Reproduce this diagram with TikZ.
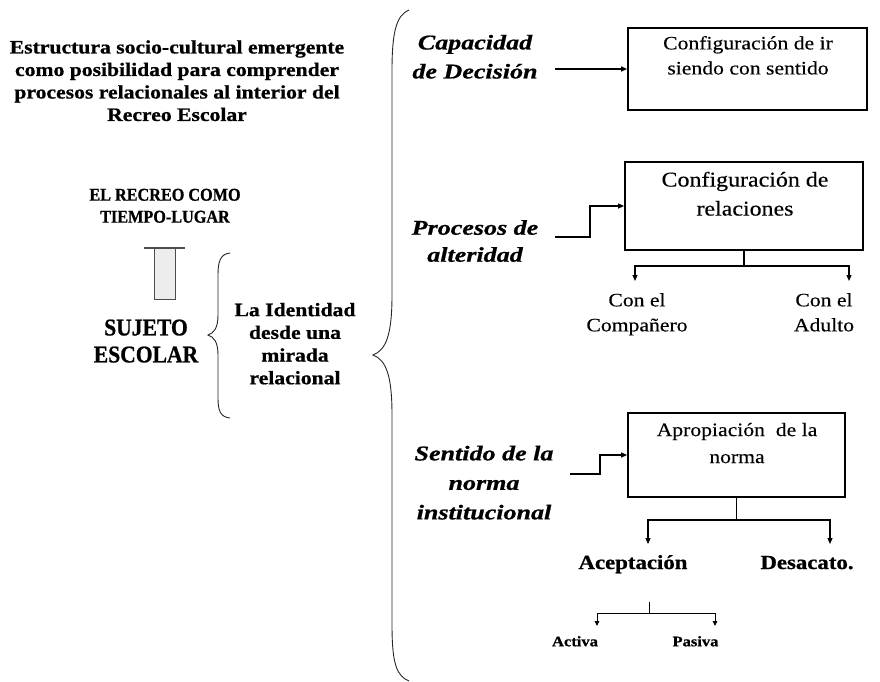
\documentclass[tikz,border=0pt]{standalone}
\usepackage{fontspec}
\setmainfont[FakeStretch=1.14, UprightFeatures={FakeBold=0.3}, BoldFeatures={FakeBold=0.8}]{Liberation Serif}
\newfontfamily\labfont[FakeStretch=1.24, BoldItalicFeatures={FakeBold=0.8}]{Liberation Serif}
\newfontfamily\capsfont[FakeStretch=0.9, BoldFeatures={FakeBold=0.8}]{Liberation Serif}
\usetikzlibrary{arrows.meta}
\newcommand{\myfs}[2]{\fontsize{#1}{#2}\selectfont}
\begin{document}
\begin{tikzpicture}[x=1pt,y=-1pt,
  txt/.style={align=center, inner sep=0pt, execute at begin node=\strut, execute at end node=\strut},
  bx/.style={draw, line width=1.8pt, inner sep=0pt},
  conn/.style={line width=1.2pt},
  arr/.style={conn, -{Triangle[length=6pt,width=5pt]}},
  brace/.style={line width=0.9pt, black!85}]
\useasboundingbox (0,0) rectangle (880,681);

% left texts
\node[txt, font=\bfseries\myfs{19}{22.5}] (title) at (177,84)
  {Estructura socio-cultural emergente\\como posibilidad para comprender\\procesos relacionales al interior del\\Recreo Escolar};
\node[txt, font=\capsfont\bfseries\myfs{18}{22}] (recreo) at (165,209) {EL RECREO COMO\\TIEMPO-LUGAR};
\node[txt, font=\capsfont\bfseries\myfs{24}{27}] (sujeto) at (146,345) {SUJETO\\ESCOLAR};
\node[txt, font=\bfseries\myfs{19}{22.7}] (ident) at (295,347) {La Identidad\\desde una\\mirada\\relacional};

% gray connector shape
\draw[line width=1pt, draw=black!70, fill=black!7] (154,248) -- (154,299) -- (175,299) -- (175,248);
\draw[line width=1.2pt, black!70] (144,248) -- (185,248);

% small brace
\draw[brace] (230,253) .. controls (220,254) and (218,262) .. (218,275)
  -- (218,315) .. controls (218,328) and (214,333) .. (208,335)
  .. controls (214,337) and (218,342) .. (218,355)
  -- (218,398) .. controls (218,410) and (220,417) .. (230,418);

% big brace
\draw[brace] (409,10) .. controls (397,15) and (392,30) .. (392,70)
  -- (392,295) .. controls (392,335) and (386,350) .. (373,355)
  .. controls (386,360) and (392,375) .. (392,415)
  -- (392,625) .. controls (392,665) and (397,676) .. (409,681);

% right column labels
\node[txt, font=\labfont\bfseries\itshape\myfs{21}{29}] (cap) at (475,61) {Capacidad\\de Decisión};
\node[txt, font=\labfont\bfseries\itshape\myfs{21}{27}] (proc) at (475,245) {Procesos de\\alteridad};
\node[txt, font=\labfont\bfseries\itshape\myfs{21}{29.5}] (sent) at (484,487) {Sentido de la\\norma\\institucional};

% boxes
\node[bx, minimum width=239pt, minimum height=82pt] (b1) at (747.5,69) {};
\node[txt, font=\myfs{19}{25}] (t1) at (748,59) {Configuración de ir\\siendo con sentido};
\node[bx, minimum width=238pt, minimum height=88pt] (b2) at (744,206) {};
\node[txt, font=\myfs{21}{29}] (t2) at (745,198) {Configuración de\\relaciones};
\node[txt, font=\myfs{19}{27}] (t3) at (737,447) {Apropiación~ de la\\norma};
\node[bx, minimum width=217pt, minimum height=84pt] (b3) at (736.5,455) {};

% arrows into boxes
\coordinate (c1) at (555,69);
\draw[arr] (c1) -- (b1.west);
\coordinate (c2) at (555,237);
\draw[arr] (c2) -- (590,237) -- (590,206) -- (b2.west);
\coordinate (c3) at (570,474);
\draw[arr] (c3) -- (600,474) -- (600,455) -- (b3.west);

% box 2 tree
\node[txt, font=\myfs{19}{25}] (comp) at (637,316) {Con el\\Compañero};
\node[txt, font=\myfs{19}{25}] (adul) at (824,316) {Con el\\Adulto};
\coordinate (j2) at (744,266);
\draw[conn] (b2.south) -- (j2);
\draw[arr] (j2) -- (635,266) -- (635,281);
\draw[arr] (j2) -- (849,266) -- (849,281);

% box 3 tree
\node[txt, font=\bfseries\myfs{20}{25}] (acep) at (633,564) {Aceptación};
\node[txt, font=\bfseries\myfs{20}{25}] (desa) at (807,564) {Desacato.};
\coordinate (j3) at (736.5,520);
\draw[conn] (b3.south) -- (j3);
\draw[arr] (j3) -- (648,520) -- (648,544);
\draw[arr] (j3) -- (830,520) -- (830,544);

% small tree
\coordinate (j4t) at (649,602);
\coordinate (j4) at (649,613);
\node[txt, font=\bfseries\myfs{14.5}{16}] (act) at (575,643) {Activa};
\node[txt, font=\bfseries\myfs{14.5}{16}] (pas) at (695.5,643) {Pasiva};
\draw[line width=0.9pt] (j4t) -- (j4);
\draw[line width=0.9pt, -{Triangle[length=5pt,width=4.5pt]}] (j4) -- (597,613) -- (597,626);
\draw[line width=0.9pt, -{Triangle[length=5pt,width=4.5pt]}] (j4) -- (715,613) -- (715,626);
\end{tikzpicture}
\end{document}
